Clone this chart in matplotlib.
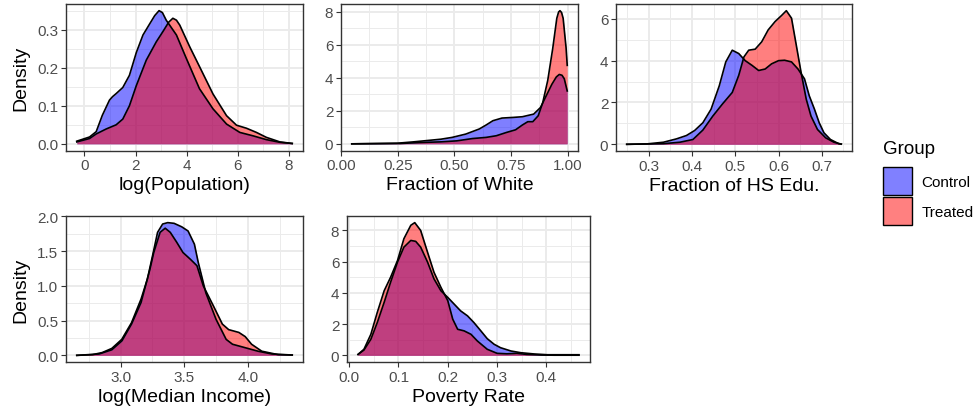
import matplotlib
matplotlib.use("Agg")
import matplotlib.pyplot as plt
from matplotlib.patches import Patch
from matplotlib.ticker import MultipleLocator, FormatStrFormatter

plt.rcParams["font.family"] = ["Liberation Sans", "DejaVu Sans"]

# density curves per covariate: (x, control density, treated density)
pop_x_c = [-0.30, 0.20, 0.46, 0.70, 0.98, 1.10, 1.24, 1.50, 1.76, 2.03, 2.29, 2.55, 2.75,
           2.92, 3.05, 3.20, 3.60, 3.99, 4.50, 5.03, 5.56, 6.08, 6.60, 7.12, 7.65, 8.13]
pop_c = [0.007, 0.018, 0.032, 0.075, 0.115, 0.124, 0.132, 0.148, 0.180, 0.240, 0.286,
         0.315, 0.337, 0.350, 0.345, 0.325, 0.286, 0.224, 0.145, 0.092, 0.052, 0.030,
         0.021, 0.011, 0.004, 0.001]
pop_x_t = [-0.30, 0.20, 0.46, 0.85, 1.24, 1.50, 1.76, 2.03, 2.42, 2.81, 3.07, 3.30, 3.46,
           3.60, 3.73, 4.12, 4.51, 5.03, 5.56, 5.95, 6.34, 6.73, 7.12, 7.65, 8.13]
pop_t = [0.005, 0.014, 0.026, 0.039, 0.050, 0.065, 0.100, 0.153, 0.220, 0.268, 0.295,
         0.320, 0.330, 0.325, 0.312, 0.255, 0.202, 0.131, 0.074, 0.049, 0.041, 0.030,
         0.017, 0.005, 0.001]

white_x_c = [0.047, 0.25, 0.32, 0.38, 0.44, 0.49, 0.55, 0.61, 0.64, 0.67, 0.71, 0.76, 0.80,
             0.85, 0.88, 0.905, 0.93, 0.95, 0.963, 0.975, 0.985, 0.998]
white_c = [0.0, 0.04, 0.12, 0.20, 0.28, 0.39, 0.59, 0.90, 1.14, 1.40, 1.56, 1.60, 1.64,
           1.80, 2.20, 2.90, 3.60, 4.05, 4.20, 4.15, 3.94, 3.20]
white_x_t = [0.047, 0.26, 0.35, 0.44, 0.51, 0.58, 0.64, 0.685, 0.73, 0.77, 0.80, 0.824,
             0.846, 0.87, 0.89, 0.912, 0.934, 0.952, 0.960, 0.966, 0.973, 0.98, 0.993, 0.998]
white_t = [0.0, 0.02, 0.08, 0.12, 0.18, 0.32, 0.39, 0.49, 0.69, 0.85, 1.14, 1.34, 1.34,
           1.70, 2.50, 3.84, 5.77, 7.60, 7.98, 8.06, 7.95, 7.60, 5.80, 4.75]

hs_x_c = [0.249, 0.296, 0.334, 0.364, 0.387, 0.406, 0.425, 0.444, 0.463, 0.478, 0.493,
          0.508, 0.523, 0.539, 0.554, 0.569, 0.584, 0.600, 0.614, 0.630, 0.645, 0.660,
          0.671, 0.683, 0.694, 0.705, 0.720, 0.739, 0.745]
hs_c = [0.0, 0.02, 0.10, 0.26, 0.42, 0.66, 1.03, 1.68, 2.80, 3.94, 4.50, 4.34, 4.00,
        3.77, 3.53, 3.60, 3.85, 4.00, 4.02, 3.94, 3.60, 3.13, 2.32, 1.68, 1.03, 0.55,
        0.23, 0.03, 0.01]
hs_x_t = [0.249, 0.334, 0.372, 0.402, 0.425, 0.448, 0.470, 0.493, 0.508, 0.520, 0.531,
          0.546, 0.561, 0.576, 0.592, 0.607, 0.618, 0.630, 0.641, 0.652, 0.664, 0.675,
          0.690, 0.709, 0.728, 0.743, 0.745]
hs_t = [0.0, 0.03, 0.10, 0.23, 0.68, 1.35, 1.92, 2.48, 3.30, 4.18, 4.50, 4.55, 4.90,
        5.47, 5.87, 6.16, 6.39, 6.03, 4.74, 3.45, 2.16, 1.35, 0.71, 0.31, 0.10, 0.02, 0.01]

inc_x_c = [2.654, 2.777, 2.854, 2.93, 3.008, 3.085, 3.16, 3.21, 3.25, 3.29, 3.33, 3.37,
           3.42, 3.48, 3.53, 3.58, 3.61, 3.67, 3.75, 3.83, 3.88, 3.98, 4.08, 4.19, 4.35]
inc_c = [0.0, 0.01, 0.04, 0.10, 0.23, 0.47, 0.81, 1.10, 1.43, 1.77, 1.89, 1.91, 1.90,
         1.85, 1.79, 1.60, 1.34, 0.90, 0.52, 0.23, 0.16, 0.11, 0.06, 0.02, 0.005]
inc_x_t = [2.654, 2.83, 2.93, 3.01, 3.085, 3.16, 3.23, 3.26, 3.31, 3.35, 3.39, 3.44, 3.49,
           3.55, 3.60, 3.65, 3.73, 3.80, 3.85, 3.93, 3.98, 4.03, 4.11, 4.24, 4.35]
inc_t = [0.0, 0.02, 0.08, 0.21, 0.45, 0.76, 1.24, 1.48, 1.77, 1.83, 1.77, 1.63, 1.48,
         1.38, 1.29, 1.00, 0.71, 0.45, 0.37, 0.33, 0.27, 0.16, 0.06, 0.01, 0.005]

pov_x_c = [0.018, 0.030, 0.044, 0.057, 0.071, 0.084, 0.098, 0.111, 0.125, 0.135, 0.145,
           0.159, 0.172, 0.186, 0.200, 0.213, 0.226, 0.240, 0.253, 0.267, 0.280, 0.294,
           0.307, 0.328, 0.348, 0.375, 0.402, 0.466]
pov_c = [0.06, 0.34, 1.03, 2.10, 3.40, 4.68, 5.97, 6.93, 7.36, 7.30, 6.93, 5.97, 4.90,
         4.14, 3.71, 3.28, 2.85, 2.53, 2.10, 1.57, 1.07, 0.71, 0.49, 0.28, 0.17, 0.09,
         0.04, 0.04]
pov_x_t = [0.018, 0.030, 0.044, 0.057, 0.071, 0.084, 0.098, 0.111, 0.125, 0.133, 0.145,
           0.159, 0.172, 0.186, 0.200, 0.210, 0.220, 0.233, 0.247, 0.260, 0.280, 0.300,
           0.320, 0.340, 0.360, 0.390, 0.416, 0.466]
pov_t = [0.06, 0.39, 1.35, 2.75, 4.14, 5.00, 6.07, 7.47, 8.33, 8.50, 8.00, 6.60, 5.32,
         4.36, 3.50, 2.32, 1.67, 1.57, 1.35, 0.92, 0.39, 0.13, 0.10, 0.13, 0.06, 0.02,
         0.01, 0.01]

groups = ["Control", "Treated"]
fills = ["#0000FF", "#FF0000"]
keys = [(0.5, 0.5, 1.0), (1.0, 0.5, 0.5)]

W, H = 977, 414
# axes boxes in pixels: left, right, top, bottom
panels = [
    dict(box=(66, 303, 5, 151.5), xc=pop_x_c, c=pop_c, xt=pop_x_t, t=pop_t,
         xlabel="log(Population)", ylabel="Density", xmaj=2, xmin=1, ymaj=0.1, ymin=0.05,
         xfmt="%g", yfmt="%.1f"),
    dict(box=(341, 578, 5, 151.5), xc=white_x_c, c=white_c, xt=white_x_t, t=white_t,
         xlabel="Fraction of White", ylabel=None, xmaj=0.25, xmin=0.125, ymaj=2, ymin=1,
         xfmt="%.2f", yfmt="%g"),
    dict(box=(616, 852, 5, 152), xc=hs_x_c, c=hs_c, xt=hs_x_t, t=hs_t,
         xlabel="Fraction of HS Edu.", ylabel=None, xmaj=0.1, xmin=0.05, ymaj=2, ymin=1,
         xfmt="%.1f", yfmt="%g"),
    dict(box=(66, 303, 217, 363), xc=inc_x_c, c=inc_c, xt=inc_x_t, t=inc_t,
         xlabel="log(Median Income)", ylabel="Density", xmaj=0.5, xmin=0.25, ymaj=0.5,
         ymin=0.25, xfmt="%.1f", yfmt="%.1f"),
    dict(box=(347, 590, 217, 363), xc=pov_x_c, c=pov_c, xt=pov_x_t, t=pov_t,
         xlabel="Poverty Rate", ylabel=None, xmaj=0.1, xmin=0.05, ymaj=2, ymin=1,
         xfmt="%.1f", yfmt="%g"),
]

fig = plt.figure(figsize=(W / 100, H / 100), dpi=100)

for p in panels:
    l, r, t, b = p["box"]
    ax = fig.add_axes([l / W, 1 - b / H, (r - l) / W, (b - t) / H])

    for xs, ys, col in [(p["xc"], p["c"], fills[0]), (p["xt"], p["t"], fills[1])]:
        ax.fill_between(xs, 0, ys, color=col, alpha=0.5, linewidth=0)
        ax.plot(xs, ys, color="black", lw=1.2, solid_joinstyle="round")

    # same 5% padding ggplot uses on continuous scales
    x0 = min(p["xc"][0], p["xt"][0])
    x1 = max(p["xc"][-1], p["xt"][-1])
    ytop = max(max(p["c"]), max(p["t"]))
    ax.set_xlim(x0 - 0.05 * (x1 - x0), x1 + 0.05 * (x1 - x0))
    ax.set_ylim(-0.05 * ytop, 1.05 * ytop)

    ax.xaxis.set_major_locator(MultipleLocator(p["xmaj"]))
    ax.xaxis.set_minor_locator(MultipleLocator(p["xmin"]))
    ax.yaxis.set_major_locator(MultipleLocator(p["ymaj"]))
    ax.yaxis.set_minor_locator(MultipleLocator(p["ymin"]))
    ax.xaxis.set_major_formatter(FormatStrFormatter(p["xfmt"]))
    ax.yaxis.set_major_formatter(FormatStrFormatter(p["yfmt"]))

    ax.grid(which="major", color="#EBEBEB", lw=1.4)
    ax.grid(which="minor", color="#EBEBEB", lw=0.7)
    ax.set_axisbelow(True)
    ax.tick_params(which="major", direction="out", length=3.5, width=0.8, color="#333333",
                   labelsize=11, labelcolor="#4D4D4D", pad=2)
    ax.tick_params(which="minor", length=0)
    for s in ax.spines.values():
        s.set_color("#333333")
        s.set_linewidth(1.0)

    ax.set_xlabel(p["xlabel"], fontsize=14, labelpad=3)
    if p["ylabel"]:
        ax.set_ylabel(p["ylabel"], fontsize=14, labelpad=6)

# legend: title placed on its own so the keys sit lower, as in ggplot
fig.text(883 / W, 1 - 150 / H, "Group", fontsize=13.5, ha="left", va="center")
handles = [Patch(facecolor=k, edgecolor="black", linewidth=1.0) for k in keys]
fig.legend(handles, groups, loc="upper left", bbox_to_anchor=(883 / W, 1 - 168 / H),
           frameon=False, fontsize=11, handlelength=1.9, handleheight=2.45,
           handletextpad=0.6, labelspacing=0.12, borderpad=0, borderaxespad=0)

fig.savefig("out.png", dpi=100)
